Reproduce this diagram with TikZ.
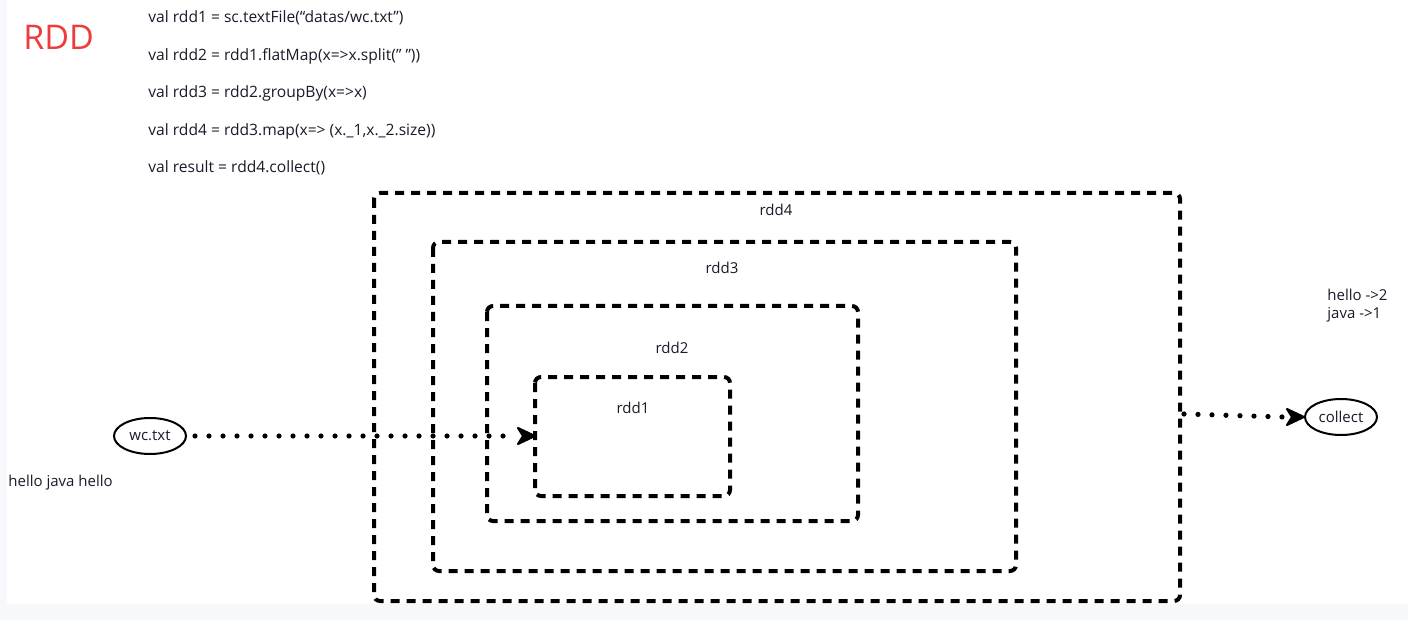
\documentclass[tikz,border=0pt]{standalone}
\usepackage{fontspec}
\setmainfont{Open Sans}
\usetikzlibrary{arrows.meta,shapes.geometric,calc}
\definecolor{bgc}{HTML}{F7F8FB}
\definecolor{txt}{HTML}{1A1A2A}
\definecolor{rddred}{HTML}{EE3B3B}
\tikzset{
  px/.style={x=0.5pt,y=-0.5pt},
  rddbox/.style={draw=black,line width=2pt,dash pattern=on 4.5pt off 3.5pt,rounded corners=3pt},
  lbl/.style={font=\fontsize{7.5}{9}\selectfont,text=txt,inner sep=0pt},
  code/.style={lbl,font=\fontsize{7.8}{9}\selectfont,anchor=west},
  oval/.style={ellipse,draw=black,line width=1pt,minimum width=36pt,minimum height=18pt,inner sep=0pt,font=\fontsize{7.5}{9}\selectfont,text=txt},
  dotline/.style={line width=2.6pt,line cap=round,dash pattern=on 0pt off 7pt},
  tiphead/.style={fill=black,draw=black,line width=1pt,line join=round}
}
\begin{document}
\begin{tikzpicture}[px]
\useasboundingbox (0,0) rectangle (1408,620);
\fill[bgc] (0,0) rectangle (1408,620);
\fill[white] (7,0) rectangle (1408,604);
\node[anchor=west,inner sep=0pt,text=rddred,font=\fontsize{17}{20}\selectfont] (title) at (23,37) {RDD};
\node[code] (c1) at (148,18) {val rdd1 = sc.textFile(“datas/wc.txt”)};
\node[code] (c2) at (148,56) {val rdd2 = rdd1.flatMap(x=>x.split(\symbol{34} \symbol{34}))};
\node[code] (c3) at (148,93) {val rdd3 = rdd2.groupBy(x=>x)};
\node[code] (c4) at (148,131) {val rdd4 = rdd3.map(x=> (x.\_1,x.\_2.size))};
\node[code] (c5) at (148,168) {val result = rdd4.collect()};
\draw[rddbox] (374,193) rectangle (1180,601);
\draw[rddbox] (433,242) rectangle (1016,571);
\draw[rddbox] (487,306) rectangle (858,521);
\draw[rddbox] (535,377) rectangle (730,496);
\coordinate (r1w) at (535,436);
\coordinate (r1b) at (516,436);
\coordinate (r4e) at (1184,414);
\node[lbl] (l4) at (776,210) {rdd4};
\node[lbl] (l3) at (722,268) {rdd3};
\node[lbl] (l2) at (672,348) {rdd2};
\node[lbl] (l1) at (633,408) {rdd1};
\node[oval] (wc) at (150,436) {wc.txt};
\node[oval] (col) at (1341,417) {collect};
\node[lbl,anchor=west] (hj) at (8,483) {hello java hello};
\node[lbl,anchor=north west,align=left] (res) at (1327,289) {hello ->2\\java ->1};
\draw[dotline] (wc.east) ++(8,0) -- (r1b);
\draw[tiphead] (r1w) -- ++(-17,-8) -- ++(5,8) -- ++(-5,8) -- cycle;
\coordinate (cb) at ($(col.west)+(-20,0)$);
\draw[dotline] (r4e) -- (cb);
\draw[tiphead] (col.west) -- ++(-17,-8) -- ++(5,8) -- ++(-5,8) -- cycle;
\end{tikzpicture}
\end{document}
